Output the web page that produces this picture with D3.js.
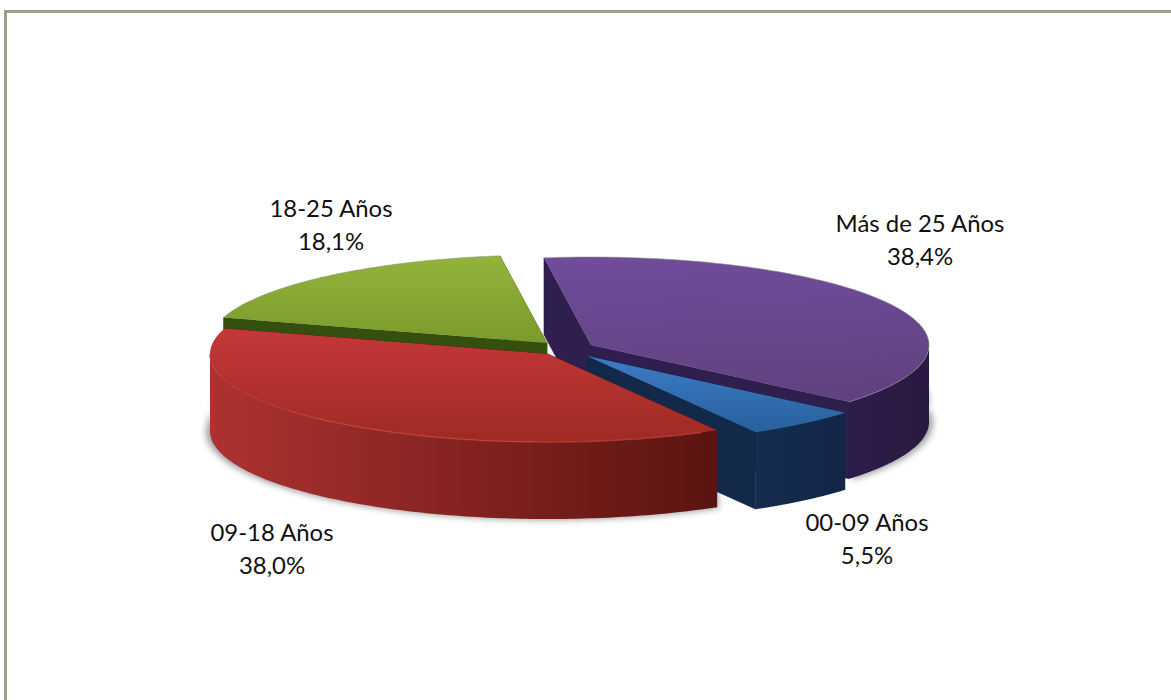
<!DOCTYPE html>
<html>
<head>
<meta charset="utf-8">
<script src="https://cdn.jsdelivr.net/npm/d3@7/dist/d3.min.js"></script>
<style>
html,body{margin:0;padding:0;background:#fff;overflow:hidden}
svg{display:block}
text{font-family:Lato,"Open Sans",sans-serif;fill:#111}
</style>
</head>
<body>
<svg id="c" width="1171" height="700"></svg>
<script>
// Data
const categories = ["Más de 25 Años", "00-09 Años", "09-18 Años", "18-25 Años"];
const values = [38.4, 5.5, 38.0, 18.1];
const valueLabels = ["38,4%", "5,5%", "38,0%", "18,1%"];

// Layout and style (per category)
const apexX = [591, 587, 548, 547];
const apexY = [345, 356, 354, 343];
const labelX = [920, 867, 272, 331];
const labelBase = [232, 531, 541, 217];
const topStops = [["#704c9c","#614280"],["#3d7cc6","#28609c"],["#c43838","#9e2a24"],["#93b43a","#7a9a2c"]];
const wallStops = [["#2c1c4a","#2a1a42"],["#142c4e","#122648"],["#ad3230","#5a1410"],["#3a5612","#2e4610"]];
const faceColor = ["#2e1f4e","#12294a","#5a1410","#34500f"];

const rx = 338, ry = 88, depth = 77, startDeg = -8;
const fontSize = 23, textStretch = 1.04, lineGap = 33;
const svg = d3.select("#c");
const defs = svg.append("defs");

const pie = d3.pie().sort(null).value(d => d)
  .startAngle(startDeg * Math.PI / 180)
  .endAngle((startDeg + 360) * Math.PI / 180);
const arcs = pie(values);

const line = d3.line().x(d => d[0]).y(d => d[1]);
const pt = (i, t, dz = 0) => [apexX[i] + rx * Math.sin(t), apexY[i] - ry * Math.cos(t) + dz];
const samples = (a, b) => d3.range(0, 121).map(k => a + (b - a) * k / 120);

// Border
const borderColor = "#a39d88";
svg.append("rect").attr("x", 4).attr("y", 10).attr("width", 1167).attr("height", 3).attr("fill", borderColor);
svg.append("rect").attr("x", 4).attr("y", 10).attr("width", 3).attr("height", 690).attr("fill", borderColor);

// Gradients
arcs.forEach((a, i) => {
  const g = defs.append("linearGradient").attr("id", "top" + i)
    .attr("x1", 0).attr("y1", 0).attr("x2", i === 0 ? 0.1 : 0).attr("y2", 1);
  g.append("stop").attr("offset", 0).attr("stop-color", topStops[i][0]);
  g.append("stop").attr("offset", 1).attr("stop-color", topStops[i][1]);
  const w = defs.append("linearGradient").attr("id", "wall" + i)
    .attr("x1", 0).attr("y1", 0).attr("x2", 1).attr("y2", 0);
  w.append("stop").attr("offset", 0).attr("stop-color", wallStops[i][0]);
  w.append("stop").attr("offset", 1).attr("stop-color", wallStops[i][1]);
});
const blur = defs.append("filter").attr("id", "soft")
  .attr("x", "-10%").attr("y", "-20%").attr("width", "120%").attr("height", "140%");
blur.append("feGaussianBlur").attr("stdDeviation", 3);

// Shadow beneath the outer walls
const shadow = svg.append("g").attr("filter", "url(#soft)").attr("fill", "#555").attr("opacity", 0.55);
[0, 2].forEach(i => {
  const a = arcs[i];
  const lo = Math.max(a.startAngle, Math.PI / 2 - 0.3), hi = Math.min(a.endAngle, Math.PI * 1.5 + 0.1);
  const upper = samples(lo, hi).map(t => pt(i, t, depth - 22));
  const lower = samples(hi, lo).map(t => {
    const p = pt(i, t, depth + 1);
    return [apexX[i] + (p[0] - apexX[i]) * 1.012, p[1]];
  });
  shadow.append("path").attr("d", line(upper.concat(lower)) + "Z");
});

// Slices, back to front
[3, 0, 1, 2].forEach(i => {
  const a = arcs[i];
  const g = svg.append("g");
  const apex = [apexX[i], apexY[i]];
  // Cut faces
  [a.startAngle, a.endAngle].forEach(t => {
    const p = pt(i, t);
    g.append("path")
      .attr("d", line([apex, p, [p[0], p[1] + depth], [apex[0], apex[1] + depth]]) + "Z")
      .attr("fill", faceColor[i]).attr("stroke", faceColor[i]).attr("stroke-width", 0.5);
  });
  // Outer wall: only the part facing the viewer
  const lo = Math.max(a.startAngle, Math.PI / 2), hi = Math.min(a.endAngle, Math.PI * 1.5);
  if (hi > lo) {
    const ts = samples(lo, hi);
    const poly = ts.map(t => pt(i, t)).concat(ts.slice().reverse().map(t => pt(i, t, depth)));
    g.append("path").attr("d", line(poly) + "Z").attr("fill", "url(#wall" + i + ")");
  }
  // Top
  const top = [apex].concat(samples(a.startAngle, a.endAngle).map(t => pt(i, t)));
  g.append("path").attr("d", line(top) + "Z").attr("fill", "url(#top" + i + ")");
  // Rim highlight
  if (i === 2) {
    g.append("path").attr("d", line(samples(Math.PI * 0.85, Math.PI * 1.5).map(t => pt(i, t))))
      .attr("fill", "none").attr("stroke", "#bd3f3a").attr("stroke-width", 1.5).attr("opacity", 0.8);
  }
  if (i === 3 || i === 0) {
    g.append("path").attr("d", line(samples(a.startAngle, a.endAngle).map(t => pt(i, t))))
      .attr("fill", "none").attr("stroke", "#8a8a80").attr("stroke-width", 0.8).attr("opacity", 0.7);
  }
});

// Labels
categories.forEach((c, i) => {
  const t = svg.append("text").attr("text-anchor", "middle").attr("font-size", fontSize)
    .attr("transform", `translate(${labelX[i]},${labelBase[i]}) scale(${textStretch},1)`);
  t.append("tspan").attr("x", 0).attr("y", 0).text(c);
  t.append("tspan").attr("x", 0).attr("y", lineGap).text(valueLabels[i]);
});
</script>
</body>
</html>
